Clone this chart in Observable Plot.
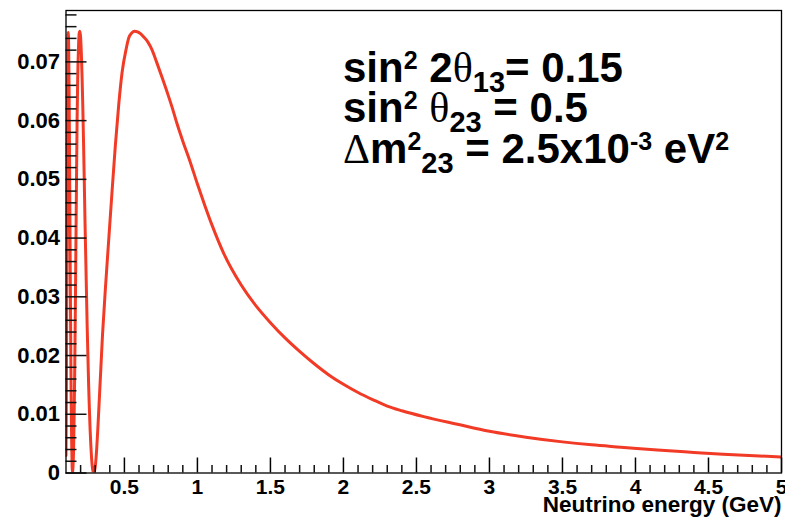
<!DOCTYPE html>
<html>
<head>
<meta charset="utf-8">
<script src="https://cdn.jsdelivr.net/npm/d3@7"></script>
<script src="https://cdn.jsdelivr.net/npm/@observablehq/plot@0.6"></script>
<style>
  html, body { margin: 0; padding: 0; background: #fff; }
  #chart { width: 785px; height: 525px; }
</style>
</head>
<body>
<div id="chart"></div>
<script>
// Appearance probability vs neutrino energy (GeV)
const energy = [
  0.100, 0.103, 0.106, 0.109, 0.112, 0.115, 0.118, 0.121, 0.124, 0.127,
  0.130, 0.133, 0.136, 0.139, 0.142, 0.145, 0.148, 0.152, 0.156, 0.160,
  0.164, 0.168, 0.172, 0.176, 0.180, 0.185, 0.190, 0.195, 0.200, 0.205,
  0.210, 0.215, 0.220, 0.225, 0.230, 0.235, 0.240, 0.245, 0.250, 0.255,
  0.260, 0.265, 0.270, 0.275, 0.280, 0.285, 0.290, 0.295, 0.300, 0.310,
  0.320, 0.330, 0.340, 0.350, 0.360, 0.370, 0.392, 0.415, 0.438, 0.461,
  0.484, 0.512, 0.530, 0.550, 0.570, 0.590, 0.610, 0.630, 0.660, 0.690,
  0.720, 0.760, 0.800, 0.830, 0.860, 0.900, 0.950, 1.000, 1.050, 1.100,
  1.180, 1.300, 1.400, 1.500, 1.600, 1.700, 1.800, 1.900, 2.000, 2.100,
  2.200, 2.300, 2.400, 2.550, 2.780, 3.000, 3.250, 3.500, 3.700, 3.900,
  4.150, 4.400, 4.600, 4.850, 5.000
];
const probability = [
  0.0030, 0.0150, 0.0350, 0.0580, 0.0710, 0.0750, 0.0730, 0.0660, 0.0550, 0.0430,
  0.0310, 0.0200, 0.0110, 0.0050, 0.0010, 0.0000, 0.0010, 0.0040, 0.0100, 0.0180,
  0.0280, 0.0390, 0.0500, 0.0600, 0.0670, 0.0720, 0.0748, 0.0752, 0.0742, 0.0715,
  0.0675, 0.0625, 0.0565, 0.0500, 0.0430, 0.0370, 0.0310, 0.0250, 0.0200, 0.0150,
  0.0110, 0.0075, 0.0048, 0.0026, 0.0011, 0.0003, 0.0000, 0.0003, 0.0010, 0.0040,
  0.0085, 0.0135, 0.0185, 0.0235, 0.0275, 0.0315, 0.0395, 0.0478, 0.0558, 0.0627,
  0.0682, 0.0722, 0.0741, 0.0749, 0.0752, 0.0751, 0.0748, 0.0743, 0.0734, 0.0720,
  0.0700, 0.0672, 0.0643, 0.0620, 0.0595, 0.0565, 0.0530, 0.0492, 0.0456, 0.0422,
  0.0374, 0.0320, 0.0285, 0.0256, 0.0230, 0.0207, 0.0186, 0.0167, 0.0151, 0.0137,
  0.0125, 0.0114, 0.0106, 0.0096, 0.0083, 0.0071, 0.0061, 0.0053, 0.0048, 0.0044,
  0.0039, 0.0035, 0.0032, 0.0029, 0.0027
];

// Axis ticks and labels
const xTicks = [0.5, 1, 1.5, 2, 2.5, 3, 3.5, 4, 4.5, 5];
const yTicks = [0, 0.01, 0.02, 0.03, 0.04, 0.05, 0.06, 0.07];
const xTitle = "Neutrino energy (GeV)";

// Oscillation parameters shown in the annotation block
const annotationLines = [
  [["sin", "n"], ["2", "sup"], [" 2", "n"], ["θ", "g"], ["13", "sub"], ["= 0.15", "n"]],
  [["sin", "n"], ["2", "sup"], [" ", "n"], ["θ", "g"], ["23", "sub"], [" = 0.5", "n"]],
  [["Δ", "g"], ["m", "n"], ["2", "sup"], ["23", "sub"], [" = 2.5x10", "n"], ["-3", "sup"], [" eV", "n"], ["2", "sup"]]
];

const data = energy.map((E, i) => ({E, P: probability[i]}));

const W = 785, H = 525;
const mL = 65.5, mR = 4, mT = 10, mB = 52.5;
const frameW = W - mL - mR, frameH = H - mT - mB;
const xDomain = [0.1, 5], yDomain = [0, 0.07875];

const xMinor = d3.range(2, 50).map(i => i / 10).filter(v => Math.abs(v * 2 - Math.round(v * 2)) > 1e-6);
const yMinor = d3.range(0, 40).map(i => i * 0.002).filter(v => Math.abs(v * 100 - Math.round(v * 100)) > 1e-6);

const font = "'Liberation Sans', Arial, Helvetica, sans-serif";
const tickStyle = {stroke: "#111", strokeWidth: 1.5};

const svg = Plot.plot({
  width: W,
  height: H,
  marginLeft: mL,
  marginRight: mR,
  marginTop: mT,
  marginBottom: mB,
  x: {domain: xDomain},
  y: {domain: yDomain},
  style: {fontFamily: font, fontWeight: "bold", fontSize: "21px", background: "#fff", overflow: "visible"},
  marks: [
    Plot.line(data, {x: "E", y: "P", stroke: "#f23b26", strokeWidth: 3, curve: "monotone-x", clip: true}),
    // inward-pointing ticks, drawn over the curve
    Plot.tickX(xMinor, {x: d => d, insetTop: frameH - 7.5, ...tickStyle}),
    Plot.tickY(yMinor, {y: d => d, insetRight: frameW - 11, ...tickStyle}),
    Plot.tickY(yTicks.slice(), {y: d => d, insetRight: frameW - 21, ...tickStyle}),
    // major x ticks point up into the frame; labels sit below the axis
    Plot.axisX({ticks: xTicks, tickSize: -15, tickPadding: 21, strokeWidth: 1.5, tickFormat: d => String(d), label: null, fontSize: 21, fontWeight: "bold"}),
    Plot.axisY({ticks: yTicks, tickSize: 0, tickPadding: 6, tickFormat: d => String(d), label: null, fontSize: 22, fontWeight: "bold"}),
    Plot.frame({stroke: "#000", strokeWidth: 1.3}),
    Plot.text([xTitle], {text: d => d, frameAnchor: "bottom-right", textAnchor: "end", dy: 39, fontSize: 22.5, fontWeight: "bold"})
  ]
});

// Annotation block with super/subscripts
const sizes = {n: 42, g: 42, sup: 25, sub: 29};
const shifts = {n: 0, g: 0, sup: -13, sub: 10};
const baselines = [81.7, 121.7, 162.7];
const g = d3.select(svg).append("g").attr("fill", "#000").attr("text-anchor", "start");
annotationLines.forEach((segments, li) => {
  const t = g.append("text")
    .attr("x", 343)
    .attr("y", baselines[li])
    .attr("text-anchor", "start")
    .attr("font-family", font)
    .attr("font-weight", "bold")
    .style("white-space", "pre");
  let cur = 0;
  segments.forEach(([txt, kind]) => {
    const target = shifts[kind];
    const ts = t.append("tspan")
      .attr("dy", target - cur)
      .attr("font-size", sizes[kind])
      .text(txt);
    if (kind === "g") ts.attr("font-family", "'Liberation Serif', 'Times New Roman', serif").attr("font-weight", "normal");
    cur = target;
  });
});

document.getElementById("chart").appendChild(svg);
</script>
</body>
</html>
